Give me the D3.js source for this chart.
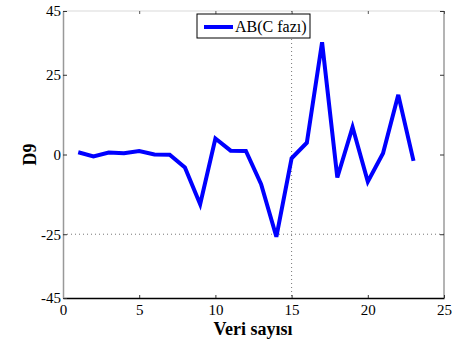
<!DOCTYPE html>
<html>
<head>
<meta charset="utf-8">
<script src="https://cdn.jsdelivr.net/npm/d3@7"></script>
<style>
  body { margin: 0; background: #fff; }
  svg text { font-family: "Liberation Serif", "DejaVu Serif", serif !important; }
</style>
</head>
<body>
<div id="space"></div>
<script>
// chart data
var samples = [1, 2, 3, 4, 5, 6, 7, 8, 9, 10, 11, 12, 13, 14, 15, 16, 17, 18, 19, 20, 21, 22, 23];
var d9Values = [0.7, -0.6, 0.6, 0.4, 1.1, 0.0, -0.1, -4.1, -15.6, 5.0, 1.2, 1.1, -9.3, -25.8, -1.2, 3.7, 35.2, -7.2, 8.6, -8.5, 0.4, 18.7, -2.0];
var xTicks = [0, 5, 10, 15, 20, 25];
var yTicks = [-45, -25, 0, 25, 45];
var seriesName = "AB(C faz\u0131)";

var svg, x, y;

init();

function init() {
    svg = d3.select("#space").append("svg")
        .attr("width", 452)
        .attr("height", 345);

    var left = 63, right = 444, top = 11, bottom = 298;

    x = d3.scaleLinear().domain([0, 25]).range([left, right]);
    y = d3.scaleLinear().domain([-45, 45]).range([bottom, top]);

    //Frame
    svg.append("line").attr("x1", left).attr("x2", right).attr("y1", top).attr("y2", top)
        .attr("stroke", "#e6e6e6").attr("stroke-width", 1.5);
    svg.append("line").attr("x1", right).attr("x2", right).attr("y1", top).attr("y2", bottom)
        .attr("stroke", "#b4b4b4").attr("stroke-width", 2);

    //Dotted grid lines
    svg.append("line").attr("x1", x(15)).attr("x2", x(15)).attr("y1", top).attr("y2", bottom)
        .attr("stroke", "#777").attr("stroke-width", 1).attr("stroke-dasharray", "1,3");
    svg.append("line").attr("x1", left).attr("x2", right).attr("y1", y(-25)).attr("y2", y(-25))
        .attr("stroke", "#777").attr("stroke-width", 1).attr("stroke-dasharray", "1,3");

    //Inner ticks on top and right
    svg.append("g").attr("transform", "translate(0," + top + ")")
        .call(d3.axisBottom(x).tickValues(xTicks).tickSize(3).tickFormat(""))
        .call(function (g) { g.select(".domain").remove(); g.selectAll("line").attr("stroke", "#555"); });
    svg.append("g").attr("transform", "translate(" + right + ",0)")
        .call(d3.axisLeft(y).tickValues(yTicks).tickSize(4).tickFormat(""))
        .call(function (g) { g.select(".domain").remove(); g.selectAll("line").attr("stroke", "#333"); });

    //Bottom axis
    var xa = svg.append("g").attr("transform", "translate(0," + bottom + ")")
        .call(d3.axisBottom(x).tickValues(xTicks).tickFormat(function (d) { return String(d); })
            .tickSizeInner(-3).tickSizeOuter(0).tickPadding(6));
    xa.select(".domain").attr("stroke", "#000").attr("stroke-width", 1.5);
    xa.selectAll("line").attr("stroke", "#333");
    xa.selectAll("text").attr("font-size", 15).attr("fill", "#000");

    //Left axis
    var ya = svg.append("g").attr("transform", "translate(" + left + ",0)")
        .call(d3.axisLeft(y).tickValues(yTicks).tickFormat(function (d) { return String(d); })
            .tickSizeInner(-4).tickSizeOuter(0).tickPadding(2));
    ya.select(".domain").attr("stroke", "#999").attr("stroke-width", 1.5);
    ya.selectAll("line").attr("stroke", "#333");
    ya.selectAll("text").attr("font-size", 15).attr("fill", "#000");

    //Data line
    var line = d3.line()
        .x(function (d, i) { return x(samples[i]); })
        .y(function (d) { return y(d); });
    svg.append("path")
        .datum(d9Values)
        .attr("d", line)
        .attr("fill", "none")
        .attr("stroke", "#0000ff")
        .attr("stroke-width", 4)
        .attr("stroke-linejoin", "miter");

    //Legend
    var lg = svg.append("g").attr("transform", "translate(197,14)");
    lg.append("rect").attr("x", 0).attr("y", 0).attr("width", 113).attr("height", 24)
        .attr("fill", "#fff").attr("stroke", "#000").attr("stroke-width", 1);
    lg.append("line").attr("x1", 7).attr("x2", 36).attr("y1", 13).attr("y2", 13)
        .attr("stroke", "#0000ff").attr("stroke-width", 4);
    lg.append("text").attr("x", 38).attr("y", 18)
        .attr("font-size", 16).attr("fill", "#000").text(seriesName);

    //Axis titles
    svg.append("text")
        .attr("transform", "translate(36," + y(0) + ") rotate(-90)")
        .attr("text-anchor", "middle")
        .attr("font-size", 18).attr("font-weight", "bold")
        .text("D9");
    svg.append("text")
        .attr("x", 253).attr("y", 335)
        .attr("text-anchor", "middle")
        .attr("font-size", 18).attr("font-weight", "bold")
        .text("Veri say\u0131s\u0131");
}
</script>
</body>
</html>
